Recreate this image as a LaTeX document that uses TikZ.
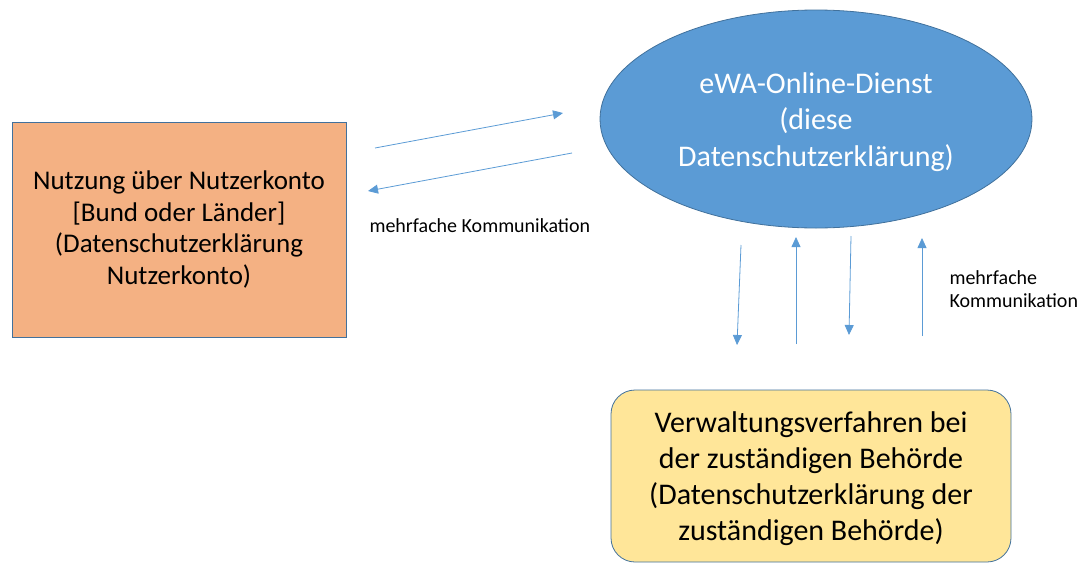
\documentclass[tikz,border=0pt]{standalone}
\usepackage{fontspec}
\setmainfont{Carlito}
\usetikzlibrary{arrows.meta,shapes.geometric}

\definecolor{boxorange}{HTML}{F4B183}
\definecolor{boxyellow}{HTML}{FFE699}
\definecolor{ovalblue}{HTML}{5B9BD5}
\definecolor{rimblue}{HTML}{41719C}
\definecolor{arrowblue}{HTML}{5B9BD5}

\begin{document}
\begin{tikzpicture}[x=1pt,y=-1pt]
\useasboundingbox (0,0) rectangle (1085,563);

\begin{scope}[every node/.style={draw=rimblue,line width=0.8pt,align=center,inner sep=0pt}]
    \node (konto) [fill=boxorange,minimum width=334pt,minimum height=215pt,
           font=\fontsize{27}{31.5}\selectfont] at (179,229.5)
          {Nutzung über Nutzerkonto\\{[Bund oder Länder]}\\(Datenschutzerklärung\\Nutzerkonto)};
    \node (dienst) [ellipse,fill=ovalblue,text=white,minimum width=432pt,minimum height=218pt,
           font=\fontsize{30}{36.5}\selectfont] at (816,119)
          {\rule{0pt}{27pt}eWA-Online-Dienst\\(diese\\Datenschutzerklärung)};
    \node (behoerde) [rounded corners=24pt,fill=boxyellow,minimum width=400pt,minimum height=172pt,
           font=\fontsize{30}{36}\selectfont] at (811,476)
          {\rule{0pt}{27pt}Verwaltungsverfahren bei\\der zuständigen Behörde\\(Datenschutzerklärung der\\zuständigen Behörde)};
\end{scope}

\begin{scope}[every node/.style={font=\fontsize{20}{23}\selectfont,align=left}]
    \node (komm1) [anchor=west] at (366,226) {mehrfache Kommunikation};
    \node (komm2) [anchor=west] at (946,289) {mehrfache\\Kommunikation};
\end{scope}

% Enden der Pfeile
\coordinate (h1a) at (375,148);  \coordinate (h1b) at (563,113);
\coordinate (h2a) at (572,153);  \coordinate (h2b) at (368,191);
\coordinate (v1a) at (741,245);  \coordinate (v1b) at (737,345);
\coordinate (v2a) at (796,344);  \coordinate (v2b) at (796,237);
\coordinate (v3a) at (851,236);  \coordinate (v3b) at (849,335);
\coordinate (v4a) at (922,336);  \coordinate (v4b) at (922,238);

\begin{scope}[>={Triangle[length=10pt,width=9pt]},
              every edge/.style={draw=arrowblue,line width=0.8pt}]
    \path [->] (h1a) edge (h1b);
    \path [->] (h2a) edge (h2b);

    \path [->] (v1a) edge (v1b);
    \path [->] (v2a) edge (v2b);
    \path [->] (v3a) edge (v3b);
    \path [->] (v4a) edge (v4b);
\end{scope}
\end{tikzpicture}
\end{document}
